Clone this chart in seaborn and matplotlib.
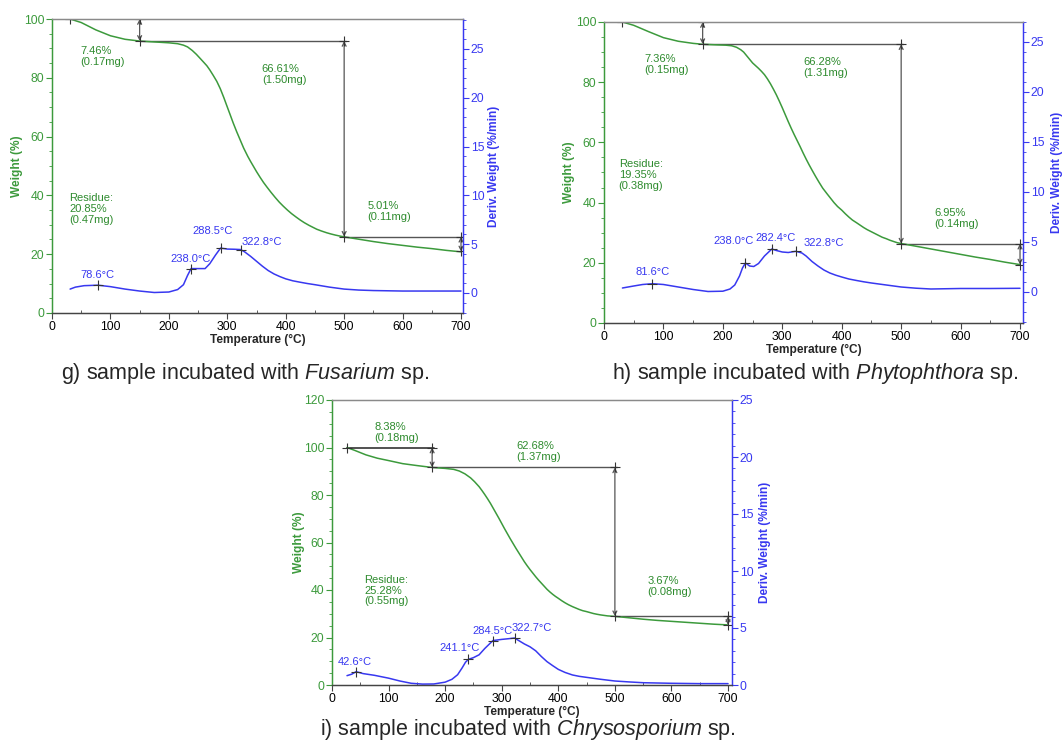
import matplotlib
matplotlib.use("Agg")
import matplotlib.pyplot as plt
import seaborn as sns
from matplotlib.ticker import MultipleLocator

sns.set_theme(style="ticks")
plt.rcParams['font.family'] = ['Liberation Sans', 'DejaVu Sans']
plt.rcParams['mathtext.fontset'] = 'custom'
plt.rcParams['mathtext.rm'] = 'Liberation Sans'
plt.rcParams['mathtext.it'] = 'Liberation Sans:italic'

# ---------------- data: panel g (Fusarium) ----------------
g_temp_w = [31, 50, 75, 100, 125, 150, 175, 200, 215, 225, 232, 240, 247, 254, 260, 265, 270, 276, 282,
            288, 294, 299, 305, 310, 316, 322, 328, 335, 340, 345, 350, 356, 362, 368, 375, 382, 389,
            396, 403, 410, 418, 425, 432, 440, 447, 453, 461, 470, 477, 485, 492, 500, 525, 550, 575,
            600, 625, 650, 675, 700]
g_weight = [100, 98.8, 96.3, 94.3, 93.1, 92.5, 92.2, 91.9, 91.6, 91.1, 90.5, 89.3, 88.0, 86.5, 85.2,
            84.1, 82.7, 80.8, 78.8, 76.3, 73.3, 70.6, 67.4, 64.7, 61.7, 58.9, 56.1, 53.3, 51.5, 49.8,
            48.1, 46.2, 44.4, 42.8, 41.0, 39.3, 37.7, 36.3, 35.0, 33.8, 32.6, 31.6, 30.7, 29.8, 29.1,
            28.5, 27.9, 27.3, 26.9, 26.5, 26.2, 25.9, 25.1, 24.3, 23.6, 23.0, 22.4, 21.9, 21.3, 20.8]
g_temp_d = [31, 40, 55, 78.6, 100, 125, 150, 175, 200, 215, 225, 232, 238, 250, 262, 270, 280, 288.5,
            300, 312, 322.8, 330, 340, 350, 360, 370, 380, 390, 400, 412, 425, 437, 450, 475, 500, 525,
            550, 600, 650, 700]
g_deriv = [0.4, 0.6, 0.75, 0.8, 0.65, 0.4, 0.2, 0.05, 0.1, 0.35, 0.85, 1.8, 2.5, 2.5, 2.5, 3.0, 3.9, 4.6,
           4.5, 4.48, 4.45, 4.2, 3.75, 3.25, 2.75, 2.3, 1.95, 1.68, 1.45, 1.25, 1.1, 0.97, 0.85, 0.6,
           0.4, 0.3, 0.25, 0.2, 0.2, 0.2]
g_step_T = [31, 150, 500, 700]
g_step_W = [100, 92.54, 25.93, 20.92]
g_loss_labels = ["7.46%\n(0.17mg)", "66.61%\n(1.50mg)", "5.01%\n(0.11mg)", "Residue:\n20.85%\n(0.47mg)"]
g_peak_T = [78.6, 238.0, 288.5, 322.8]
g_peak_D = [0.8, 2.5, 4.6, 4.45]
g_peak_labels = ["78.6°C", "238.0°C", "288.5°C", "322.8°C"]

# ---------------- data: panel h (Phytophthora) ----------------
h_temp_w = [31, 50, 75, 100, 125, 150, 166, 190, 205, 215, 223, 230, 235, 240, 245, 250, 255, 260,
            265, 270, 275, 280, 285, 290, 295, 300, 305, 310, 315, 320, 325, 330, 335, 340, 345, 350,
            356, 362, 368, 375, 381, 387, 393, 400, 406, 412, 418, 425, 431, 437, 443, 450, 456, 462,
            468, 475, 481, 487, 493, 500, 525, 550, 575, 600, 625, 650, 675, 700]
h_weight = [100, 98.9, 96.8, 94.8, 93.6, 92.9, 92.6, 92.4, 92.3, 92.1, 91.6, 90.8, 90.0, 88.8, 87.6,
            86.4, 85.5, 84.6, 83.6, 82.5, 81.1, 79.5, 77.7, 75.8, 73.7, 71.5, 69.2, 66.9, 64.7, 62.6,
            60.6, 58.6, 56.5, 54.5, 52.6, 50.8, 48.7, 46.7, 44.8, 43.0, 41.5, 40.0, 38.7, 37.5, 36.3,
            35.2, 34.2, 33.3, 32.5, 31.7, 31.0, 30.3, 29.7, 29.1, 28.5, 28.0, 27.5, 27.1, 26.7, 26.4,
            25.5, 24.6, 23.7, 22.8, 21.9, 21.1, 20.2, 19.4]
h_temp_d = [31, 50, 65, 81.6, 100, 125, 150, 175, 200, 212, 220, 228, 233, 238, 245, 252, 260, 270,
            282.4, 290, 300, 310, 322.8, 333, 340, 350, 360, 370, 380, 390, 400, 412, 425, 437, 450,
            475, 500, 525, 550, 600, 650, 700]
h_deriv = [0.4, 0.6, 0.75, 0.83, 0.75, 0.5, 0.25, 0.05, 0.08, 0.3, 0.7, 1.6, 2.4, 2.9, 2.6, 2.55, 2.85,
           3.6, 4.3, 4.15, 4.0, 3.95, 4.07, 3.9, 3.6, 3.05, 2.6, 2.2, 1.9, 1.68, 1.5, 1.3, 1.15, 1.02,
           0.9, 0.7, 0.5, 0.38, 0.3, 0.35, 0.35, 0.37]
h_step_T = [31, 166, 500, 700]
h_step_W = [100, 92.64, 26.36, 19.41]
h_loss_labels = ["7.36%\n(0.15mg)", "66.28%\n(1.31mg)", "6.95%\n(0.14mg)", "Residue:\n19.35%\n(0.38mg)"]
h_peak_T = [81.6, 238.0, 282.4, 322.8]
h_peak_D = [0.83, 2.9, 4.3, 4.07]
h_peak_labels = ["81.6°C", "238.0°C", "282.4°C", "322.8°C"]

# ---------------- data: panel i (Chrysosporium) ----------------
i_temp_w = [26.5, 40, 60, 80, 100, 125, 150, 177, 200, 215, 225, 235, 245, 252, 260, 265, 270, 275,
            280, 285, 290, 295, 300, 305, 310, 315, 320, 325, 330, 335, 340, 345, 350, 355, 360, 365,
            370, 375, 380, 385, 390, 395, 400, 406, 412, 418, 425, 431, 437, 443, 450, 456, 462, 468,
            475, 481, 487, 493, 500, 525, 550, 575, 600, 625, 650, 675, 700]
i_weight = [100, 98.8, 96.9, 95.5, 94.5, 93.2, 92.4, 91.6, 91.2, 90.8, 90.1, 88.9, 87.2, 85.6, 83.5,
            81.9, 80.2, 78.4, 76.5, 74.4, 72.3, 70.2, 68.0, 65.8, 63.7, 61.6, 59.6, 57.6, 55.7, 53.8,
            51.9, 50.2, 48.6, 47.1, 45.6, 44.2, 42.9, 41.6, 40.3, 39.2, 38.2, 37.3, 36.5, 35.5, 34.6,
            33.8, 33.0, 32.4, 31.8, 31.3, 30.9, 30.5, 30.1, 29.8, 29.5, 29.3, 29.1, 29.0, 28.9, 28.3,
            27.7, 27.2, 26.8, 26.4, 26.0, 25.6, 25.3]
i_temp_d = [26.5, 35, 42.6, 55, 75, 100, 120, 140, 160, 180, 200, 212, 222, 230, 236, 241.1, 250, 260,
            270, 284.5, 300, 310, 322.7, 330, 340, 350, 360, 370, 380, 390, 400, 412, 425, 437, 450,
            475, 500, 525, 550, 600, 650, 700]
i_deriv = [0.82, 0.95, 1.17, 1.0, 0.85, 0.6, 0.35, 0.15, 0.08, 0.09, 0.25, 0.5, 0.9, 1.5, 2.0, 2.25,
           2.4, 2.65, 3.2, 3.9, 4.0, 4.05, 4.12, 3.9, 3.6, 3.35, 3.0, 2.5, 2.05, 1.7, 1.37, 1.1, 0.88,
           0.76, 0.67, 0.5, 0.35, 0.27, 0.2, 0.15, 0.12, 0.12]
i_step_T = [26.5, 177, 500, 700]
i_step_W = [100, 91.62, 28.94, 25.27]
i_loss_labels = ["8.38%\n(0.18mg)", "62.68%\n(1.37mg)", "3.67%\n(0.08mg)", "Residue:\n25.28%\n(0.55mg)"]
i_peak_T = [42.6, 241.1, 284.5, 322.7]
i_peak_D = [1.17, 2.25, 3.9, 4.12]
i_peak_labels = ["42.6°C", "241.1°C", "284.5°C", "322.7°C"]

captions = [r"g) sample incubated with $\it{Fusarium}$ sp.",
            r"h) sample incubated with $\it{Phytophthora}$ sp.",
            r"i) sample incubated with $\it{Chrysosporium}$ sp."]

GREEN = '#3c9a3c'
TGREEN = '#2e8b2e'
BLUE = '#3838f0'
GRAY = '#555555'
SPINE = '#8a8a8a'

fig = plt.figure(figsize=(10.64, 7.44), dpi=100)


def panel(rect, xmax, ylim_l, ylim_r, ymax_tick_l, Tw, W, Td, D, sT, sW,
          loss_labels, loss_pos, pT, pD, peak_labels, peak_pos, lab_x):
    ax = fig.add_axes(rect)
    ax2 = ax.twinx()
    sns.lineplot(x=Tw, y=W, ax=ax, color=GREEN, lw=1.1, estimator=None, sort=False)
    sns.lineplot(x=Td, y=D, ax=ax2, color=BLUE, lw=1.1, estimator=None, sort=False)

    # step-loss construction lines
    for k in range(len(sT) - 1):
        ax.plot([sT[k], sT[k + 1] + 3], [sW[k], sW[k]], color=GRAY if k else '#333333',
                lw=1.2 if k == 0 else 1.0, zorder=1)
        ax.annotate('', xy=(sT[k + 1], sW[k + 1]), xytext=(sT[k + 1], sW[k]),
                    arrowprops=dict(arrowstyle='<->', color=GRAY, lw=0.9,
                                    shrinkA=0, shrinkB=0, mutation_scale=7))
    mx = [sT[0]] + [t for t in sT[1:] for _ in range(2)]
    my = [sW[0]] + [w for k in range(1, len(sT)) for w in (sW[k - 1], sW[k])]
    sns.scatterplot(x=mx, y=my, ax=ax, marker='+', s=45, color='#333333', linewidth=0.8, zorder=5)
    sns.scatterplot(x=pT, y=pD, ax=ax2, marker='+', s=45, color='#333333', linewidth=0.8, zorder=5)

    for s, (x, y) in zip(loss_labels, loss_pos):
        ax.text(x, y, s, color=TGREEN, fontsize=8, ha='left', va='top', linespacing=1.12)
    for s, (x, y, ha) in zip(peak_labels, peak_pos):
        ax2.text(x, y, s, color=BLUE, fontsize=8, ha=ha, va='bottom')

    ax.set_xlim(0, xmax)
    ax.xaxis.set_major_locator(MultipleLocator(100))
    ax.xaxis.set_minor_locator(MultipleLocator(50))
    ax.set_yticks(list(range(0, ymax_tick_l + 1, 20)))
    ax.yaxis.set_minor_locator(MultipleLocator(5))
    ax2.set_yticks([0, 5, 10, 15, 20, 25])
    ax2.yaxis.set_minor_locator(MultipleLocator(1))
    ax.set_ylim(*ylim_l)
    ax2.set_ylim(*ylim_r)

    for a in (ax, ax2):
        a.tick_params(which='major', direction='out', length=4, width=0.8, labelsize=8.8, pad=1.5)
        a.tick_params(which='minor', direction='out', length=2.2, width=0.6)
        a.grid(False)
    ax.tick_params(axis='x', which='minor', direction='in', length=2.5)
    ax.tick_params(axis='y', which='both', colors=GREEN, labelcolor=GREEN)
    ax2.tick_params(axis='y', which='both', colors=BLUE, labelcolor=BLUE)
    ax.tick_params(axis='x', which='both', colors='#444444', labelcolor='black')

    for a in (ax, ax2):
        a.spines['top'].set_color(SPINE)
        a.spines['bottom'].set_color('#444444')
        a.spines['left'].set_color(GREEN)
        a.spines['right'].set_color(BLUE)
        for sp in a.spines.values():
            sp.set_linewidth(0.9)

    ax.set_xlabel('Temperature (°C)', fontsize=8.6, fontweight='bold', labelpad=1)
    ax.set_ylabel('Weight (%)', fontsize=8.6, fontweight='bold', color=GREEN)
    ax2.set_ylabel('Deriv. Weight (%/min)', fontsize=8.6, fontweight='bold', color=BLUE)
    ax.yaxis.set_label_coords(lab_x[0], 0.5)
    ax2.yaxis.set_label_coords(lab_x[1], 0.5)
    return ax, ax2


# panel g
panel([52 / 1064, 1 - 313 / 744, (463 - 52) / 1064, (313 - 19) / 744], 703.4, (0, 100), (-2.05, 28.07), 100,
      g_temp_w, g_weight, g_temp_d, g_deriv, g_step_T, g_step_W,
      g_loss_labels, [(48, 90.9), (359, 84.7), (540, 38.2), (30, 40.8)],
      g_peak_T, g_peak_D, g_peak_labels,
      [(78, 1.3, 'center'), (237, 3.0, 'center'), (275, 5.8, 'center'), (325, 4.7, 'left')],
      (-0.07, 1.061))

# panel h
panel([604 / 1064, 1 - 323 / 744, (1023 - 604) / 1064, (323 - 22) / 744], 705, (0, 100), (-3.1, 27.0), 100,
      h_temp_w, h_weight, h_temp_d, h_deriv, h_step_T, h_step_W,
      h_loss_labels, [(68.5, 89.3), (335, 88.5), (556, 38.2), (24.7, 54.4)],
      h_peak_T, h_peak_D, h_peak_labels,
      [(81, 1.45, 'center'), (218, 4.55, 'center'), (289, 4.85, 'center'), (335, 4.35, 'left')],
      (-0.069, 1.067))

# panel i
panel([332 / 1064, 1 - 685 / 744, (732 - 332) / 1064, (685 - 400) / 744], 707, (0, 120), (0, 25), 120,
      i_temp_w, i_weight, i_temp_d, i_deriv, i_step_T, i_step_W,
      i_loss_labels, [(74.7, 110.7), (325, 102.9), (558, 45.8), (57, 46.5)],
      i_peak_T, i_peak_D, i_peak_labels,
      [(41, 1.6, 'center'), (225, 2.8, 'center'), (284, 4.3, 'center'), (318, 4.55, 'left')],
      (-0.0675, 1.0675))

fig.text(245 / 1064, 1 - 373 / 744, captions[0], ha='center', va='center', fontsize=15.5)
fig.text(815 / 1064, 1 - 373 / 744, captions[1], ha='center', va='center', fontsize=15.5)
fig.text(528 / 1064, 1 - 730 / 744, captions[2], ha='center', va='center', fontsize=15.5)

fig.savefig('out.png', dpi=100, facecolor='white')
